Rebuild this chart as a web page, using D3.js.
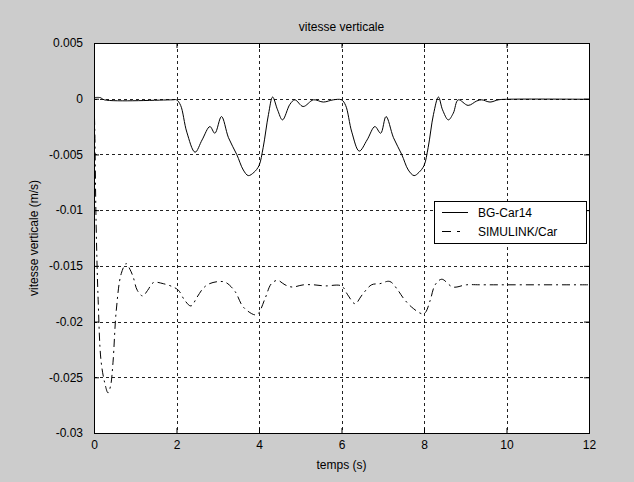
<!DOCTYPE html>
<html>
<head>
<meta charset="utf-8">
<script src="https://cdn.jsdelivr.net/npm/d3@7"></script>
<style>
    body { margin: 0; background: #cccccc; }
    text { font-family: Arial, "Liberation Sans", sans-serif; }
</style>
</head>
<body>
<div id="chart"></div>
<script>
// data
const bgTime = [0, 0.15, 0.25, 1.9, 2.0, 2.1, 2.25, 2.45, 2.62, 2.81, 2.93, 3.09, 3.26, 3.46, 3.62, 3.74, 3.88, 4.0, 4.1, 4.23, 4.33,
    4.45, 4.57, 4.75, 4.87, 5.07, 5.32, 5.56, 5.8, 6.0, 6.1, 6.25, 6.43, 6.62, 6.81, 6.95, 7.08, 7.26, 7.46, 7.62, 7.76, 7.88,
    8.0, 8.1, 8.23, 8.35, 8.45, 8.59, 8.71, 8.83, 9.07, 9.28, 9.4, 9.6, 9.8, 10, 12];
const bgValue = [0.0001, 0.0001, -0.0001, -0.0001, -0.0001, -0.0006, -0.003, -0.0048, -0.0037, -0.0025, -0.0031, -0.0016, -0.0035,
    -0.005, -0.0064, -0.0069, -0.0066, -0.006, -0.0044, -0.0014, 0.00015, -0.001, -0.0019, -0.0005, -0.0001, -0.0007, -0.0001,
    -0.0003, -0.0001, -0.0001, -0.0006, -0.003, -0.0047, -0.0037, -0.0025, -0.0031, -0.0016, -0.0035, -0.005, -0.0064, -0.0069,
    -0.0066, -0.006, -0.0044, -0.0014, 0.00015, -0.001, -0.0019, -0.0013, -0.0001, -0.0006, -0.0002, -0.0001, -0.0003, -0.0001,
    -0.00005, -0.00005];

const simTime = [0, 0.02, 0.05, 0.1, 0.17, 0.26, 0.34, 0.4, 0.46, 0.54, 0.66, 0.78, 0.87, 0.95, 1.05, 1.18, 1.3, 1.44, 1.68, 1.92,
    2.05, 2.2, 2.35, 2.5, 2.65, 2.8, 3.05, 3.2, 3.42, 3.62, 3.9, 3.98, 4.15, 4.3, 4.45, 4.63, 4.8, 5.08, 5.32, 5.6, 6.0, 6.15,
    6.33, 6.5, 6.73, 6.93, 7.17, 7.37, 7.5, 7.7, 7.95, 8.03, 8.15, 8.27, 8.43, 8.7, 9.03, 9.4, 12];
const simValue = [0, -0.003, -0.011, -0.018, -0.0235, -0.0255, -0.0264, -0.0258, -0.0237, -0.019, -0.0157, -0.0148, -0.0153, -0.016,
    -0.0172, -0.0177, -0.0172, -0.0165, -0.0166, -0.0169, -0.0172, -0.0181, -0.0186, -0.0178, -0.017, -0.0166, -0.0164, -0.0165,
    -0.0173, -0.0187, -0.0194, -0.0193, -0.0179, -0.0166, -0.0163, -0.0167, -0.0169, -0.0167, -0.0167, -0.0168, -0.0168, -0.0176,
    -0.0184, -0.0176, -0.0167, -0.0166, -0.0164, -0.0172, -0.0179, -0.0187, -0.0193, -0.0192, -0.0181, -0.0167, -0.0162, -0.0169,
    -0.0167, -0.0167, -0.0167];

const xTicks = [0, 2, 4, 6, 8, 10, 12];
const yTicks = [0.005, 0, -0.005, -0.01, -0.015, -0.02, -0.025, -0.03];
const yTickLabels = ["0.005", "0", "-0.005", "-0.01", "-0.015", "-0.02", "-0.025", "-0.03"];
const seriesNames = ["BG-Car14", "SIMULINK/Car"];

const svgWidth = 634, svgHeight = 482;
const marginLeft = 94, marginTop = 43, plotW = 495, plotH = 390;

const svg = d3.select("#chart").append("svg")
    .attr("width", svgWidth)
    .attr("height", svgHeight);

svg.append("rect")
    .attr("width", svgWidth)
    .attr("height", svgHeight)
    .attr("fill", "#cccccc");

const x = d3.scaleLinear().domain([0, 12]).range([marginLeft, marginLeft + plotW]);
const y = d3.scaleLinear().domain([-0.03, 0.005]).range([marginTop + plotH, marginTop]);

// plot area
svg.append("rect")
    .attr("x", marginLeft)
    .attr("y", marginTop)
    .attr("width", plotW)
    .attr("height", plotH)
    .attr("fill", "white");

//dotted grid
const grid = svg.append("g").attr("stroke", "#222").attr("stroke-dasharray", "3,3").attr("stroke-width", 1);
xTicks.slice(1, -1).forEach(t => {
    grid.append("line")
        .attr("x1", Math.round(x(t)) + 0.5).attr("x2", Math.round(x(t)) + 0.5)
        .attr("y1", marginTop).attr("y2", marginTop + plotH);
});
yTicks.slice(1, -1).forEach(v => {
    grid.append("line")
        .attr("x1", marginLeft).attr("x2", marginLeft + plotW)
        .attr("y1", Math.round(y(v)) + 0.5).attr("y2", Math.round(y(v)) + 0.5);
});

// lines
const line = d3.line()
    .x(d => x(d[0]))
    .y(d => y(d[1]))
    .curve(d3.curveCatmullRom.alpha(0.5));

svg.append("clipPath").attr("id", "clip")
    .append("rect").attr("x", marginLeft).attr("y", marginTop).attr("width", plotW).attr("height", plotH);

svg.append("path")
    .datum(bgTime.map((t, i) => [t, bgValue[i]]))
    .attr("clip-path", "url(#clip)")
    .attr("fill", "none")
    .attr("stroke", "black")
    .attr("stroke-width", 1)
    .attr("d", line);

svg.append("path")
    .datum(simTime.map((t, i) => [t, simValue[i]]))
    .attr("clip-path", "url(#clip)")
    .attr("fill", "none")
    .attr("stroke", "black")
    .attr("stroke-width", 1)
    .attr("stroke-dasharray", "8,4,2,4")
    .attr("d", line);

// axes, ticks pointing inward on all four sides
const fmt = d => yTickLabels[yTicks.indexOf(d)];
svg.append("g")
    .attr("transform", `translate(${marginLeft},0)`)
    .call(d3.axisLeft(y).tickValues(yTicks).tickFormat(fmt).tickSizeInner(-5).tickSizeOuter(0).tickPadding(11));
svg.append("g")
    .attr("transform", `translate(${marginLeft + plotW},0)`)
    .call(d3.axisRight(y).tickValues(yTicks).tickFormat("").tickSizeInner(-5).tickSizeOuter(0));
svg.append("g")
    .attr("transform", `translate(0,${marginTop + plotH})`)
    .call(d3.axisBottom(x).tickValues(xTicks).tickFormat(d3.format("d")).tickSizeInner(-5).tickSizeOuter(0).tickPadding(7));
svg.append("g")
    .attr("transform", `translate(0,${marginTop})`)
    .call(d3.axisTop(x).tickValues(xTicks).tickFormat("").tickSizeInner(-5).tickSizeOuter(0));

svg.selectAll(".domain").remove();
svg.selectAll(".tick line").attr("stroke", "black");
svg.selectAll(".tick text").style("font-size", "12px").attr("fill", "black").style("font-family", "Arial, 'Liberation Sans', sans-serif");

svg.append("rect")
    .attr("x", marginLeft + 0.5)
    .attr("y", marginTop + 0.5)
    .attr("width", plotW)
    .attr("height", plotH)
    .attr("fill", "none")
    .attr("stroke", "black");

// titles
svg.append("text")
    .attr("x", marginLeft + plotW / 2)
    .attr("y", 31)
    .attr("text-anchor", "middle")
    .style("font-size", "12px")
    .text("vitesse verticale");

svg.append("text")
    .attr("x", marginLeft + plotW / 2)
    .attr("y", 469)
    .attr("text-anchor", "middle")
    .style("font-size", "12px")
    .text("temps (s)");

svg.append("text")
    .attr("transform", `translate(38,${marginTop + plotH / 2}) rotate(-90)`)
    .attr("text-anchor", "middle")
    .style("font-size", "12px")
    .text("vitesse verticale (m/s)");

// legend
const legend = svg.append("g").attr("transform", "translate(434,201)");
legend.append("rect")
    .attr("x", 0.5).attr("y", 0.5)
    .attr("width", 152).attr("height", 42)
    .attr("fill", "white")
    .attr("stroke", "black");

seriesNames.forEach((name, i) => {
    const ly = 11.5 + i * 19;
    legend.append("line")
        .attr("x1", 8).attr("x2", 34)
        .attr("y1", ly).attr("y2", ly)
        .attr("stroke", "black")
        .attr("stroke-dasharray", i == 1 ? "9,6,3,20" : null);
    legend.append("text")
        .attr("x", 44)
        .attr("y", ly + 4)
        .style("font-size", "12px")
        .text(name);
});
</script>
</body>
</html>
